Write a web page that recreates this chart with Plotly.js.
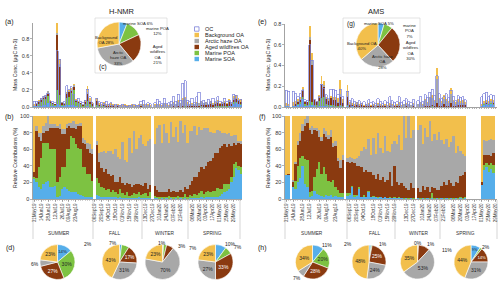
<!DOCTYPE html>
<html><head><meta charset="utf-8">
<script src="https://cdn.plot.ly/plotly-3.0.1.min.js"></script>
<style>html,body{margin:0;padding:0;background:#fff}#chart{width:500px;height:287px}</style>
</head><body><div id="chart"></div>
<script>
// ---------- DATA ----------
const components = ['Marine SOA','Marine POA','Aged wildfires OA','Arctic haze OA','Background OA'];
const sampleIdx = Array.from({length:90},(_,i)=>i);

// H-NMR relative contributions (%) per sample
const nmrSOA = [24,20,14,12,18,20,22,15,14,16,3,4,12,14,12,10,9,8,8,6,5,4,3,3,2,2,null,
 5,4,3,3,3,2,2,3,2,1,2,1,1,1,1,1,1,1,2,1,1,1,1,1,null,
 1,1,0,1,0,1,0,1,0,1,0,1,0,1,0,1,1,1,1,1,2,1,2,2,3,2,3,3,4,6,8,10,12,20,27,37,35,30];
const nmrPOA = [2,5,25,38,50,48,45,45,46,44,17,22,26,24,48,50,67,66,58,56,55,34,35,27,28,20,null,
 20,15,12,10,8,10,6,8,6,5,10,6,4,8,3,4,6,5,6,4,5,6,3,8,null,
 3,2,3,2,3,2,4,2,3,2,4,2,3,5,2,4,3,5,4,6,8,5,6,8,5,8,7,10,8,6,10,8,6,6,15,8,5,8];
const nmrWF = [6,57,36,20,12,14,15,26,26,25,66,58,40,40,26,28,10,12,18,26,28,30,28,30,26,32,null,
 40,25,22,20,25,18,20,18,12,15,14,12,12,10,14,10,10,12,10,12,10,12,8,8,null,
 12,8,6,5,5,6,8,5,7,6,5,8,6,8,10,12,18,20,22,25,28,30,32,35,38,40,45,42,50,52,48,45,48,38,25,20,27,28];
const nmrHAZE = [0,6,5,10,8,10,18,4,4,5,2,6,6,6,4,3,6,8,6,2,4,6,5,8,10,6,null,
 5,12,20,25,20,28,30,25,40,30,22,50,30,25,55,40,65,42,55,60,50,45,58,55,null,
 50,75,80,60,82,70,55,85,65,78,60,83,70,75,55,65,60,62,50,55,45,50,45,40,35,30,25,28,20,16,14,15,14,12,10,12,3,4];
const nmrBG = [68,12,20,20,12,8,0,10,10,10,12,10,16,16,10,9,8,6,10,10,8,26,29,32,34,40,null,
 30,44,43,42,44,42,42,46,40,49,52,31,53,56,27,45,18,40,27,23,34,36,30,28,null,
 34,14,11,32,10,21,33,7,25,13,31,6,21,11,33,18,18,12,23,13,17,14,15,15,19,20,20,17,18,20,20,22,20,24,23,23,30,30];
// H-NMR total OA mass and OC (ugC m-3)
const nmrTotal = [0.03,0.05,0.08,0.11,0.13,0.14,0.19,0.08,0.05,0.04,0.98,0.56,0.06,0.05,0.18,0.20,0.22,0.27,0.09,0.07,0.05,0.04,0.08,0.25,0.10,0.06,null,
 0.10,0.05,0.04,0.06,0.04,0.03,0.05,0.03,0.02,0.03,0.02,0.02,0.03,0.02,0.02,0.03,0.02,0.02,0.03,0.04,0.03,0.02,0.03,0.02,null,
 0.03,0.04,0.03,0.02,0.05,0.03,0.02,0.04,0.06,0.04,0.08,0.05,0.10,0.12,0.06,0.04,0.05,0.04,0.06,0.05,0.07,0.05,0.06,0.04,0.07,0.05,0.06,0.08,0.05,0.06,0.07,0.05,0.09,0.06,0.13,0.14,0.10,0.09];
const nmrOC = [0.07,0.07,0.06,0.10,0.12,0.14,0.16,0.06,0.06,0.05,0.66,0.56,0.05,0.06,0.25,0.20,0.24,0.15,0.08,0.10,0.06,0.05,0.08,0.21,0.12,0.05,null,
 0.10,0.06,0.05,0.04,0.07,0.03,0.05,0.02,0.03,0.02,0.02,0.03,0.02,0.01,0.02,0.02,0.03,0.02,0.02,0.07,0.08,0.03,0.05,0.04,null,
 0.05,0.09,0.06,0.04,0.10,0.04,0.05,0.07,0.12,0.07,0.15,0.08,0.28,0.31,0.08,0.06,0.10,0.05,0.12,0.17,0.06,0.08,0.05,0.09,0.06,0.10,0.06,0.12,0.07,0.05,0.10,0.06,0.08,0.05,0.15,0.14,0.08,0.09];

// AMS relative contributions (%)
const amsSOA = [29,29,null,15,12,20,25,40,18,15,3,4,10,6,5,4,3,5,4,5,3,4,3,2,3,null,
 4,5,14,3,4,12,2,3,2,8,2,3,2,1,2,1,2,1,1,1,1,1,1,1,0,1,0,1,0,null,
 1,0,1,0,1,0,1,0,1,0,1,0,1,0,1,0,1,0,1,0,1,null,null,null,null,null,null,17,35,38,33,36,31,null];
const amsPOA = [0,0,null,0,10,20,25,12,30,32,5,6,17,30,40,26,35,25,18,15,20,10,8,5,4,null,
 3,2,2,2,1,3,1,2,1,2,1,1,0,1,1,0,1,0,1,0,1,0,1,0,1,0,1,0,1,null,
 0,1,0,1,0,1,6,1,0,1,0,1,0,1,0,1,0,1,1,1,2,null,null,null,null,null,null,0,6,5,8,7,10,null];
const amsWF = [0,1,null,6,20,25,20,30,40,45,75,68,56,46,30,40,40,45,50,55,40,50,35,30,40,null,
 38,36,28,38,35,25,35,28,32,22,30,25,22,28,20,25,18,22,30,15,38,20,15,18,15,12,10,18,12,null,
 12,8,15,10,14,8,8,12,10,10,15,20,16,22,18,15,20,18,26,28,29,null,null,null,null,null,null,3,12,10,12,9,14,null];
const amsHAZE = [0,0,null,2,3,5,10,8,8,8,3,10,2,3,8,5,8,7,5,8,5,6,4,10,6,null,
 5,8,6,5,10,12,20,30,25,40,20,45,30,50,38,30,55,35,25,50,30,45,60,40,84,60,89,55,70,null,
 70,80,50,75,60,85,55,65,60,70,55,45,55,40,50,60,35,45,30,25,20,null,null,null,null,null,null,0,18,17,18,20,16,null];
const amsBG = [71,70,null,77,55,30,20,10,4,0,14,12,15,15,17,25,14,18,23,17,32,30,50,53,47,null,
 50,49,50,52,50,48,42,37,40,28,47,26,46,20,39,44,24,42,43,34,30,34,23,41,0,27,0,26,17,null,
 17,11,34,14,25,6,30,22,29,19,29,34,28,37,31,24,44,36,42,46,48,null,null,null,null,null,null,80,29,30,29,28,29,null];
const amsTotal = [0.04,0.03,null,0.05,0.06,0.08,0.10,0.19,0.06,0.05,0.78,0.52,0.08,0.06,0.12,0.30,0.25,0.10,0.08,0.11,0.10,0.10,0.09,0.26,0.08,null,
 0.21,0.05,0.04,0.03,0.05,0.03,0.04,0.02,0.03,0.04,0.02,0.03,0.02,0.04,0.03,0.02,0.03,0.02,0.04,0.03,0.02,0.03,0.05,0.02,0.03,0.04,0.03,0.02,0.04,null,
 0.03,0.05,0.03,0.08,0.05,0.10,0.12,0.07,0.375,0.09,0.06,0.12,0.08,0.06,0.18,0.07,0.05,0.08,0.06,0.07,0.05,null,null,null,null,null,null,0.03,0.06,0.07,0.06,0.08,0.07,null];
const amsOC = [0.16,0.15,null,0.15,0.13,0.10,0.13,0.16,0.07,0.06,0.60,0.45,0.07,0.05,0.10,0.22,0.18,0.12,0.08,0.17,0.17,0.16,0.12,0.17,0.10,null,
 0.15,0.06,0.08,0.05,0.04,0.06,0.03,0.05,0.02,0.07,0.04,0.05,0.03,0.08,0.05,0.03,0.06,0.04,0.10,0.06,0.04,0.05,0.10,0.04,0.06,0.08,0.05,0.04,0.07,null,
 0.06,0.10,0.05,0.12,0.09,0.14,0.17,0.11,0.30,0.13,0.08,0.10,0.13,0.09,0.16,0.10,0.06,0.11,0.09,0.10,0.07,null,null,null,null,null,null,0.10,0.13,0.14,0.10,0.12,0.11,null];

// date tick labels
const tickText = ['31May19','14Jun19','28Jun19','12Jul19','26Jul19','09Aug19','23Aug19',
 '06Sep19','20Sep19','04Oct19','18Oct19','01Nov19','15Nov19','29Nov19',
 '13Dec19','27Dec19','10Jan20','24Jan20','07Feb20','21Feb20',
 '06Mar20','20Mar20','03Apr20','17Apr20','01May20','15May20','29May20'];
const nmrTickIdx = [0,3,6,9,12,15,18,26,29,32,35,38,41,44,48,51,54,57,60,63,68,71,74,77,80,83,86];
const amsTickIdx = [0,3,7,10,14,17,21,27,30,33,37,40,43,46,51,54,58,61,64,67,71,74,77,80,83,86,89];
const seasons = ['SUMMER','FALL','WINTER','SPRING'];

// pies (%), order = components
const nmrAnnual = [6,12,21,33,28];
const amsAnnual = [5,7,30,28,40];
const nmrSummer = [14,30,27,6,23];
const nmrFall = [2,7,17,31,43];
const nmrWinter = [1,3,7,70,23];
const nmrSpring = [10,7,33,27,23];
const amsSummer = [11,20,28,7,34];
const amsFall = [2,1,25,24,48];
const amsWinter = [0,1,11,53,35];
const amsSpring = [9,2,14,31,44];

// ---------- DRAW ----------
const W=500,H=287, F='Liberation Sans, Arial, sans-serif';
const px=x=>x/W, py=y=>1-y/H;
const COL=['#56AEEA','#7DC242','#8A3A10','#A8A8A8','#F2BF4C'];
const OCCOL='#7B80D8';
const traces=[];
function absVals(p,t){return p.map((v,i)=>(v==null||t[i]==null)?null:v/100*t[i]);}
function panel(arrs,tot,oc,xa,ya,yoc,xb,yb){
  arrs.forEach((a,k)=>{
    traces.push({type:'bar',x:sampleIdx,y:absVals(a,tot),xaxis:xa,yaxis:ya,name:components[k],
      marker:{color:COL[k],line:{width:0}},width:0.78,showlegend:false,hoverinfo:'skip'});
    traces.push({type:'bar',x:sampleIdx,y:a,xaxis:xb,yaxis:yb,name:components[k],
      marker:{color:COL[k],line:{width:0}},width:1.0,showlegend:false,hoverinfo:'skip'});
  });
  traces.push({type:'bar',x:sampleIdx,y:oc,xaxis:xa,yaxis:yoc,name:'OC',
    marker:{color:'rgba(0,0,0,0)',line:{color:OCCOL,width:0.7}},width:0.95,showlegend:false,hoverinfo:'skip'});
}
panel([nmrSOA,nmrPOA,nmrWF,nmrHAZE,nmrBG],nmrTotal,nmrOC,'x','y','y2','x3','y3');
panel([amsSOA,amsPOA,amsWF,amsHAZE,amsBG],amsTotal,amsOC,'x4','y4','y5','x6','y6');

const ann=[];
function A(text,x,y,size,o){ann.push(Object.assign({text,x:px(x),y:py(y),xref:'paper',yref:'paper',showarrow:false,
  font:{size,color:'#222',family:F},xanchor:'center',yanchor:'middle'},o||{}));}

function pie(vals,cx,cy,r,outside,showText){
  const txtCol=['#222','#222','#fff','#222','#222'];
  traces.push({type:'pie',values:vals,labels:components,sort:false,direction:'clockwise',rotation:0,
    marker:{colors:COL,line:{color:'#fff',width:0.6}},
    text:vals.map((v,k)=>(showText && !outside.some(o=>o[0]===k))?v+'%':''),
    textinfo:'text',textposition:'inside',insidetextorientation:'horizontal',
    textfont:{size:5,color:txtCol,family:F},
    domain:{x:[px(cx-r),px(cx+r)],y:[py(cy+r),py(cy-r)]},showlegend:false,hoverinfo:'skip'});
  outside.forEach(o=>A(vals[o[0]]+'%',o[1],o[2],5));
}
// inset pies
pie(nmrAnnual,119,44,22,[],false);
pie(amsAnnual,378,45,22,[],false);
// seasonal pies
pie(nmrSummer,57.5,262,17.5,[[3,35,264]],true);
pie(nmrFall,119.5,262,17.5,[[0,88,244],[1,113,243]],true);
pie(nmrWinter,162.5,262,17.5,[[0,162,243],[1,182,246],[2,193,248]],true);
pie(nmrSpring,215.5,262,17.5,[[0,230,244],[1,238,247]],true);
pie(amsSummer,312.5,262,17,[[0,327,245],[3,297,278]],true);
pie(amsFall,369,262,17,[[0,348,244],[1,383,244]],true);
pie(amsWinter,417.5,262,17,[[0,418,243],[1,431,244],[2,447,250]],true);
pie(amsSpring,471,262,17,[[1,486,247]],true);

// texts
A('H-NMR',122,12,7.5); A('AMS',376,12,7.5);
[['(a)',9,22],['(b)',9,117],['(d)',10,248],['(e)',262,22],['(f)',262,117],['(h)',262,248]].forEach(t=>A(t[0],t[1],t[2],7));
A('Mass Conc. (µgC m-3)',15,65,5.2,{textangle:-90});
A('Relative Contributions (%)',15,158,5.2,{textangle:-90});
A('Mass Conc. (µgC m-3)',268,65,5.2,{textangle:-90});
A('Relative Contributions (%)',268,158,5.2,{textangle:-90});
// inset labels
A('marine SOA 6%',138,23,4.2); A('marine POA<br>12%',157,31,4.2);
A('Aged<br>wildfires<br>OA<br>21%',157,55,4.2); A('Arctic<br>haze OA<br>33%',118,58,4.2);
A('Background<br>OA 28%',106,40,4.2); A('(c)',103,67,6.5);
A('(g)',351,24,6.5); A('marine SOA 5%',379,23,4.2); A('marine<br>POA<br>7%',409,31,4.2);
A('Aged<br>wildfires<br>OA<br>30%',410,51,4.2); A('Arctic haze<br>OA<br>28%',382,62,4.2);
A('Background OA<br>40%',362,46,4.2);
// seasons
const sepL=[33,93,142,188,240], sepR=[285,347,395,440,497];
const cenL=[59,115,164,212], cenR=[312,375,418,465];
seasons.forEach((s,k)=>{A(s,cenL[k],233,4.8,{font:{size:4.8,color:'#333',family:F}});A(s,cenR[k],233,4.8,{font:{size:4.8,color:'#333',family:F}});});
const shapes=[];
sepL.concat(sepR).forEach(x=>shapes.push({type:'line',xref:'paper',yref:'paper',x0:px(x),x1:px(x),y0:py(200),y1:py(239),line:{color:'#bbb',width:0.6}}));
// inset boxes
shapes.push({type:'rect',xref:'paper',yref:'paper',x0:px(95),x1:px(167),y0:py(73),y1:py(18),line:{color:'#d0d0d0',width:0.6},fillcolor:'#fff',layer:'below'});
shapes.push({type:'rect',xref:'paper',yref:'paper',x0:px(343),x1:px(420),y0:py(73),y1:py(18),line:{color:'#d0d0d0',width:0.6},fillcolor:'#fff',layer:'below'});
// legend
const legNames=['OC','Background OA','Arctic haze OA','Aged wildfires OA','Marine POA','Marine SOA'];
const legCols=[null,COL[4],COL[3],COL[2],COL[1],COL[0]];
legNames.forEach((n,k)=>{
  const y=29+k*6;
  shapes.push({type:'rect',xref:'paper',yref:'paper',x0:px(194.5),x1:px(199),y0:py(y+2.2),y1:py(y-2.2),
    line:{color:k===0?OCCOL:legCols[k],width:k===0?0.8:0},fillcolor:k===0?'rgba(0,0,0,0)':legCols[k]});
  A(n,203,y,5.5,{xanchor:'left'});
});

const ax={showline:true,linecolor:'#666',linewidth:0.6,showgrid:false,zeroline:false,fixedrange:true,
  tickfont:{size:5.5,color:'#333',family:F},tickcolor:'#666',tickwidth:0.5};
const mk=o=>Object.assign({},ax,o);
const xa=(dom,anchor)=>mk({domain:dom,anchor,range:[-0.5,89.5],tickmode:'linear',tick0:0,dtick:1,ticks:'outside',ticklen:1.5,showticklabels:false});
const xb=(dom,anchor,tv)=>mk({domain:dom,anchor,range:[-0.5,89.5],tickmode:'array',tickvals:tv,ticktext:tickText,tickangle:-90,
  ticks:'outside',ticklen:2,tickfont:{size:4.6,color:'#333',family:F},minor:{tick0:0,dtick:1,ticks:'outside',ticklen:1.2,tickcolor:'#888',tickwidth:0.4}});
const domL=[px(33),px(242)], domR=[px(285),px(497)];
const layout={width:W,height:H,margin:{l:0,r:0,t:0,b:0},paper_bgcolor:'#fff',plot_bgcolor:'rgba(0,0,0,0)',
  barmode:'stack',showlegend:false,font:{family:F},
  xaxis:xa(domL,'y'),
  yaxis:mk({domain:[py(107),py(22.5)],anchor:'x',range:[0,0.99],tickvals:[0,0.2,0.4,0.6,0.8],tickformat:'.1f',ticks:'outside',ticklen:2}),
  yaxis2:{overlaying:'y',anchor:'x',range:[0,0.99],visible:false,fixedrange:true},
  xaxis3:xb(domL,'y3',nmrTickIdx),
  yaxis3:mk({domain:[py(199),py(116)],anchor:'x3',range:[0,100],tickvals:[0,20,40,60,80,100],ticks:'outside',ticklen:2}),
  xaxis4:xa(domR,'y4'),
  yaxis4:mk({domain:[py(107),py(24)],anchor:'x4',range:[0,0.80],tickvals:[0,0.2,0.4,0.6,0.8],tickformat:'.1f',ticks:'outside',ticklen:2}),
  yaxis5:{overlaying:'y4',anchor:'x4',range:[0,0.80],visible:false,fixedrange:true},
  xaxis6:xb(domR,'y6',amsTickIdx),
  yaxis6:mk({domain:[py(199),py(116)],anchor:'x6',range:[0,100],tickvals:[0,20,40,60,80,100],ticks:'outside',ticklen:2}),
  annotations:ann,shapes:shapes};
Plotly.newPlot('chart',traces,layout,{staticPlot:true,displayModeBar:false});
</script></body></html>
